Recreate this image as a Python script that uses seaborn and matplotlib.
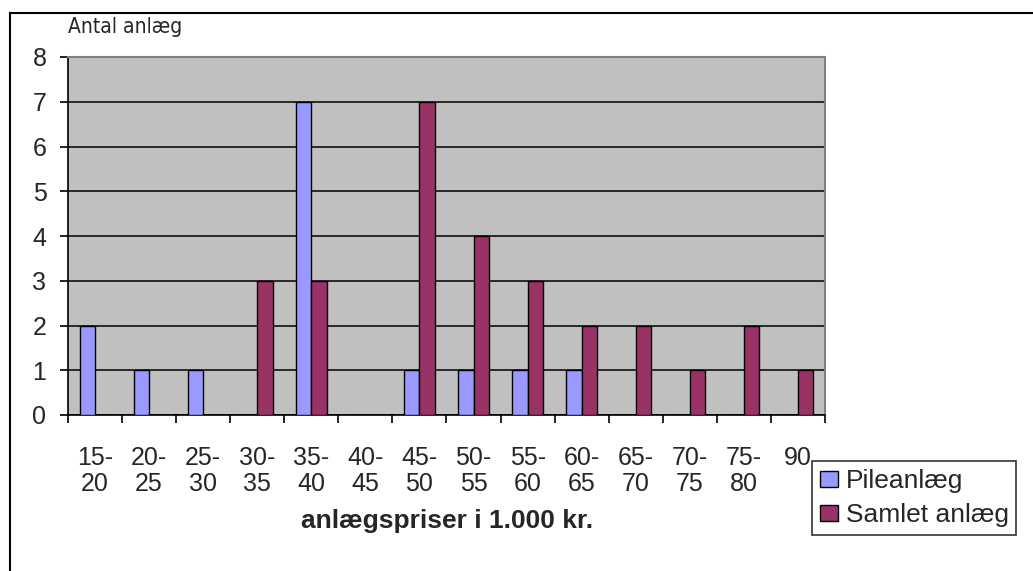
import matplotlib
matplotlib.use("Agg")
import matplotlib.pyplot as plt
from matplotlib.patches import Rectangle, Patch
import seaborn as sns
import pandas as pd
import numpy as np

# Price intervals (thousand DKK) and number of systems in each
categories = ["15-\n20", "20-\n25", "25-\n30", "30-\n35", "35-\n40", "40-\n45", "45-\n50",
              "50-\n55", "55-\n60", "60-\n65", "65-\n70", "70-\n75", "75-\n80", "90"]
pileanlaeg = [2, 1, 1, 0, 7, 0, 1, 1, 1, 1, 0, 0, 0, 0]
samlet_anlaeg = [0, 0, 0, 3, 3, 0, 7, 4, 3, 2, 2, 1, 2, 1]
series_names = ["Pileanlæg", "Samlet anlæg"]
series_colors = ["#9999FF", "#993366"]

df = pd.DataFrame({
    "kategori": categories * 2,
    "antal": pileanlaeg + samlet_anlaeg,
    "serie": [series_names[0]] * len(categories) + [series_names[1]] * len(categories),
})

sns.set_style("white")
plt.rcParams["font.family"] = ["Liberation Sans", "DejaVu Sans"]
narrow = ["Liberation Sans Narrow", "Liberation Sans", "DejaVu Sans"]

W, H = 1033, 571
fig = plt.figure(figsize=(W / 100, H / 100), dpi=100)
ax = fig.add_axes([68 / W, 1 - 415 / H, (825 - 68) / W, (415 - 57) / H])
ax.set_facecolor("#C0C0C0")

sns.barplot(data=df, x="kategori", y="antal", hue="serie", order=categories,
            hue_order=series_names, palette=series_colors, width=0.57, gap=0,
            edgecolor="black", linewidth=1, saturation=1, ax=ax, zorder=3)

ax.set_xlim(-0.5, len(categories) - 0.5)
ax.set_ylim(0, 8)
ax.set_yticks(range(0, 9))
ax.yaxis.grid(True, color="black", linewidth=1.1, zorder=1)
ax.set_axisbelow(True)

# Category boundary ticks on x axis, labels centred under each interval
ax.set_xticks(np.arange(len(categories)))
ax.set_xticklabels(categories, fontsize=18, family=narrow, linespacing=1.15)
ax.set_xticks(np.arange(-0.5, len(categories)), minor=True)
ax.tick_params(axis="x", which="major", length=0, pad=22)
ax.tick_params(axis="x", which="minor", length=6, width=1.2, color="black", direction="out")
ax.tick_params(axis="y", length=6, width=1.2, color="black", direction="out", pad=9.5)
for lbl in ax.get_yticklabels():
    lbl.set_family(narrow)
    lbl.set_fontsize(18)
ax.xaxis.set_ticks_position("bottom")
ax.yaxis.set_ticks_position("left")

for side in ["left", "bottom"]:
    ax.spines[side].set_color("black")
    ax.spines[side].set_linewidth(1.2)
for side in ["top", "right"]:
    ax.spines[side].set_visible(True)
    ax.spines[side].set_color("#808080")
    ax.spines[side].set_linewidth(1.5)

ax.set_xlabel("")
ax.set_ylabel("")
fig.text(447 / W, 1 - 521 / H, "anlægspriser i 1.000 kr.", fontsize=19, fontweight="bold",
         ha="center", va="center")
fig.text(68 / W, 1 - 27 / H, "Antal anlæg", fontsize=15, family="DejaVu Sans",
         fontstretch="condensed", ha="left", va="center")

ax.get_legend().remove()
handles = [Patch(facecolor=c, edgecolor="black", linewidth=1) for c in series_colors]
leg = fig.legend(handles, series_names, loc="upper left",
                 bbox_to_anchor=(812 / W, 1 - 461 / H), fontsize=19,
                 frameon=True, fancybox=False, borderpad=0.3, labelspacing=0.4,
                 handlelength=0.7, handleheight=0.55, handletextpad=0.27,
                 borderaxespad=0)
leg.get_frame().set_edgecolor("black")
leg.get_frame().set_linewidth(1.2)

# Outer chart border (left and top edges visible)
fig.add_artist(Rectangle((10 / W, -0.2), 1.2, 1.2 - 13 / H, transform=fig.transFigure,
                         fill=False, edgecolor="black", linewidth=1.5))

fig.savefig("out.png", dpi=100)
